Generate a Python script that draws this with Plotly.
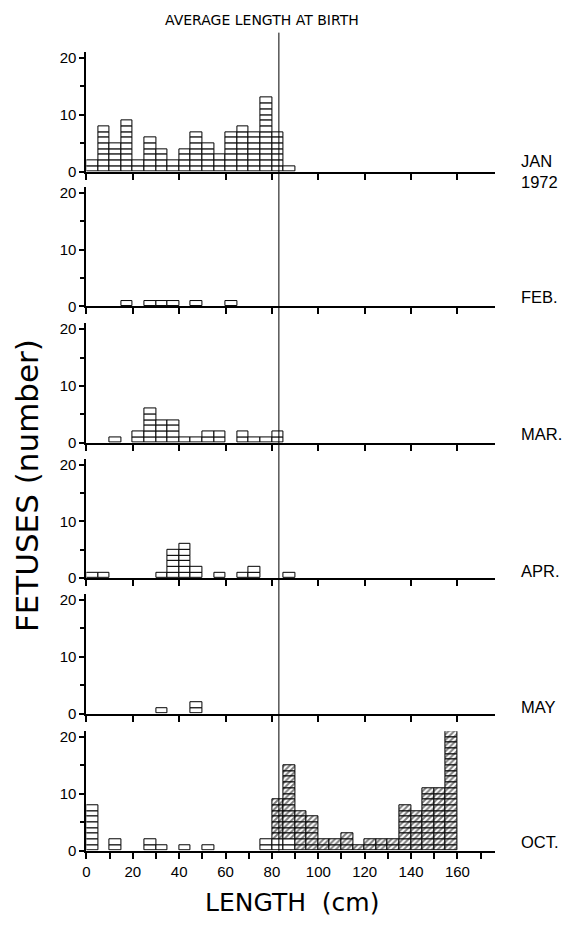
import plotly.graph_objects as go

# ---------------- data ----------------
bin_starts = list(range(0, 160, 5))  # 5 cm length classes, 0..155
jan = [2, 8, 5, 9, 2, 6, 4, 2, 4, 7, 5, 3, 7, 8, 7, 13, 7, 1, 0, 0, 0, 0, 0, 0, 0, 0, 0, 0, 0, 0, 0, 0]
feb = [0, 0, 0, 1, 0, 1, 1, 1, 0, 1, 0, 0, 1, 0, 0, 0, 0, 0, 0, 0, 0, 0, 0, 0, 0, 0, 0, 0, 0, 0, 0, 0]
mar = [0, 0, 1, 0, 2, 6, 4, 4, 1, 1, 2, 2, 0, 2, 1, 1, 2, 0, 0, 0, 0, 0, 0, 0, 0, 0, 0, 0, 0, 0, 0, 0]
apr = [1, 1, 0, 0, 0, 0, 1, 5, 6, 2, 0, 1, 0, 1, 2, 0, 0, 1, 0, 0, 0, 0, 0, 0, 0, 0, 0, 0, 0, 0, 0, 0]
may = [0, 0, 0, 0, 0, 0, 1, 0, 0, 2, 0, 0, 0, 0, 0, 0, 0, 0, 0, 0, 0, 0, 0, 0, 0, 0, 0, 0, 0, 0, 0, 0]
oct_plain = [8, 0, 2, 0, 0, 2, 1, 0, 1, 0, 1, 0, 0, 0, 0, 2, 2, 2, 0, 0, 0, 0, 0, 0, 0, 0, 0, 0, 0, 0, 0, 0]
oct_hatched = [0, 0, 0, 0, 0, 0, 0, 0, 0, 0, 0, 0, 0, 0, 0, 0, 7, 13, 7, 6, 2, 2, 3, 1, 2, 2, 2, 8, 7, 11, 11, 21]
month_labels = ["JAN<br>1972", "FEB.", "MAR.", "APR.", "MAY", "OCT."]
avg_birth_length = 83
y_ticks = [0, 10, 20]
x_ticks = [0, 20, 40, 60, 80, 100, 120, 140, 160]

W, H = 571, 935
FONT = "Liberation Sans, Arial, sans-serif"
WIDE = "DejaVu Sans, Liberation Sans, sans-serif"

# pixel geometry of panels (baseline pixel rows)
baselines = [170.7, 307, 445, 582, 719, 857.7]
px_per_unit = 5.75
x0_px, x1_px = 83, 494
x_range = [0, 176]


def cells(counts, start_base=None, pattern=""):
    xs, bases, pats = [], [], []
    for i, c in enumerate(counts):
        b0 = 0 if start_base is None else start_base[i]
        for k in range(c):
            xs.append(bin_starts[i] + 2.5)
            bases.append(b0 + k)
            pats.append(pattern)
    return xs, bases, pats


fig = go.Figure()
panels = [jan, feb, mar, apr, may]
for p, counts in enumerate(panels):
    xs, bases, pats = cells(counts)
    n = p + 1
    fig.add_trace(go.Bar(
        x=xs, y=[1] * len(xs), base=bases, width=5,
        marker=dict(color="white", line=dict(color="black", width=1)),
        xaxis="x" if n == 1 else f"x{n}", yaxis="y" if n == 1 else f"y{n}",
        showlegend=False, hoverinfo="skip"))

# October: plain cells + hatched cells stacked on top
xs1, b1, p1 = cells(oct_plain, pattern="")
xs2, b2, p2 = cells(oct_hatched, start_base=oct_plain, pattern="/")
fig.add_trace(go.Bar(
    x=xs1 + xs2, y=[1] * (len(xs1) + len(xs2)), base=b1 + b2, width=5,
    marker=dict(color="white", line=dict(color="black", width=1),
                pattern=dict(shape=p1 + p2, fgcolor="black", bgcolor="white",
                             size=4, solidity=0.5)),
    xaxis="x6", yaxis="y6", showlegend=False, hoverinfo="skip"))

layout = dict(
    width=W, height=H,
    margin=dict(l=0, r=0, t=0, b=0),
    paper_bgcolor="white", plot_bgcolor="white",
    barmode="overlay", bargap=0,
    font=dict(family=FONT, color="black", size=14),
)

for p in range(6):
    n = p + 1
    base_px = baselines[p]
    top_px = base_px - 21 * px_per_unit
    xa = dict(
        domain=[x0_px / W, x1_px / W], range=x_range,
        showline=True, linecolor="black", linewidth=2,
        showgrid=False, zeroline=False,
        tickmode="array", tickvals=x_ticks,
        ticks="outside", ticklen=6, tickwidth=1.5, tickcolor="black",
        anchor="y" if n == 1 else f"y{n}",
        fixedrange=True,
    )
    if n == 6:
        xa["ticktext"] = [str(v) for v in x_ticks]
        xa["showticklabels"] = True
        xa["tickfont"] = dict(size=15, family=FONT)
        xa["minor"] = dict(dtick=10, ticks="outside", ticklen=6, tickwidth=1.5, tickcolor="black")
    else:
        xa["showticklabels"] = False
    ya = dict(
        domain=[1 - base_px / H, 1 - top_px / H], range=[0, 21],
        showline=True, linecolor="black", linewidth=2,
        showgrid=False, zeroline=False,
        tickmode="array", tickvals=y_ticks, ticktext=[str(v) for v in y_ticks],
        ticks="outside", ticklen=5, tickwidth=1.5, tickcolor="black",
        tickfont=dict(size=15, family=FONT),
        minor=dict(tickvals=[5, 15], ticks="outside", ticklen=4, tickwidth=1.5, tickcolor="black"),
        anchor="x" if n == 1 else f"x{n}",
        fixedrange=True,
    )
    layout["xaxis" if n == 1 else f"xaxis{n}"] = xa
    layout["yaxis" if n == 1 else f"yaxis{n}"] = ya

fig.update_layout(**layout)

# vertical reference line: average length at birth
fig.add_shape(type="line", xref="x6", yref="paper",
              x0=avg_birth_length, x1=avg_birth_length,
              y0=1 - baselines[5] / H, y1=1 - 30 / H,
              line=dict(color="black", width=1))

annotations = []
annotations.append(dict(text="AVERAGE LENGTH AT BIRTH", xref="paper", yref="paper",
                        x=260 / W, y=1 - 17 / H, showarrow=False,
                        font=dict(size=14, family=WIDE),
                        xanchor="center", yanchor="middle"))
label_y_px = [170, 297, 436, 575, 712, 849]
for p, lab in enumerate(month_labels):
    annotations.append(dict(text=lab, xref="paper", yref="paper",
                            x=519 / W, y=1 - label_y_px[p] / H, showarrow=False,
                            font=dict(size=16.5, family=FONT), align="left",
                            xanchor="left", yanchor="middle"))
annotations.append(dict(text="FETUSES (number)", xref="paper", yref="paper",
                        x=23 / W, y=1 - 488 / H, showarrow=False, textangle=-90,
                        font=dict(size=31, family=WIDE),
                        xanchor="center", yanchor="middle"))
annotations.append(dict(text="LENGTH  (cm)", xref="paper", yref="paper",
                        x=290 / W, y=1 - 910 / H, showarrow=False,
                        font=dict(size=25, family=WIDE),
                        xanchor="center", yanchor="middle"))
fig.update_layout(annotations=annotations)

fig.write_html("out.html",
               config={"displayModeBar": False},
               post_script="document.body.style.margin='0';document.body.style.overflow='hidden';")
